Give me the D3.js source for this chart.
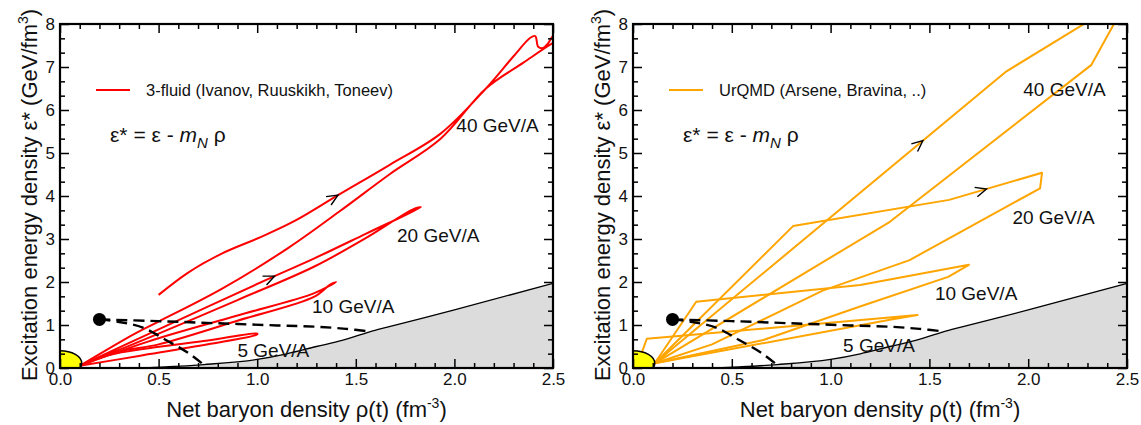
<!DOCTYPE html>
<html>
<head>
<meta charset="utf-8">
<script src="https://cdn.jsdelivr.net/npm/d3@7"></script>
<style>
  body { margin: 0; background: #fff; }
  svg text { font-family: "Liberation Sans", Arial, sans-serif; fill: #111; }
</style>
</head>
<body>
<svg id="chart" width="1141" height="425"></svg>
<script>
// ticks
const rhoTicks = [0, 0.5, 1.0, 1.5, 2.0, 2.5]
const epsTicks = [0, 1, 2, 3, 4, 5, 6, 7, 8]
const energies = ['5 GeV/A', '10 GeV/A', '20 GeV/A', '40 GeV/A']

// 3-fluid trajectories, [rho, eps*]
const fluid5 = [[0.1, 0.05], [0.4, 0.28], [0.75, 0.55], [1.0, 0.78], [1.0, 0.8], [0.75, 0.64], [0.45, 0.46], [0.25, 0.3], [0.1, 0.05]]
const fluid10 = [[0.1, 0.05], [0.45, 0.62], [0.9, 1.22], [1.29, 1.74], [1.40, 2.0], [1.37, 1.94], [1.29, 1.66], [0.9, 1.1], [0.5, 0.55], [0.3, 0.38], [0.1, 0.05]]
const fluid20 = [[0.1, 0.05], [0.5, 0.9], [1.06, 2.08], [1.29, 2.55], [1.55, 3.12], [1.83, 3.74], [1.79, 3.69], [1.55, 3.02], [1.29, 2.36], [0.9, 1.58], [0.5, 0.8], [0.1, 0.05]]
const fluid40 = [[0.5, 1.7], [0.65, 2.22], [0.82, 2.66], [1.02, 3.05], [1.19, 3.42], [1.41, 4.02], [1.67, 4.72], [1.93, 5.45], [2.16, 6.5], [2.3, 7.25],
  [2.385, 7.68], [2.41, 7.72], [2.425, 7.47], [2.45, 7.44], [2.475, 7.55], [2.5, 7.72], [2.56, 7.9], [2.56, 7.7], [2.5, 7.56], [2.35, 7.1],
  [2.16, 6.5], [1.93, 5.33], [1.67, 4.5], [1.42, 3.65], [1.16, 2.8], [0.82, 1.84], [0.5, 1.08], [0.38, 0.8], [0.1, 0.05]]

// UrQMD trajectories
const urqmd5 = [[0.04, 0.3], [0.07, 0.68], [1.44, 1.23], [1.30, 1.12], [0.11, 0.11]]
const urqmd10 = [[0.11, 0.11], [0.32, 1.54], [1.15, 1.93], [1.70, 2.40], [1.595, 2.12], [1.149, 1.43], [0.66, 0.65], [0.11, 0.11]]
const urqmd20 = [[0.11, 0.11], [0.81, 3.30], [1.60, 3.91], [2.07, 4.54], [2.06, 4.18], [1.40, 2.51], [0.96, 1.80], [0.40, 0.55], [0.11, 0.11]]
const urqmd40 = [[0.11, 0.11], [1.89, 6.9], [2.30, 8.05], [2.40, 8.4], [2.47, 8.3], [2.32, 7.05], [1.30, 3.40], [0.11, 0.11]]

// grey region boundary and dashed freeze-out lines
const boundary = [[0, 0], [0.35, 0], [0.55, 0.03], [0.73, 0.08], [1.0, 0.2], [1.15, 0.33], [1.3, 0.5], [1.43, 0.64], [1.57, 0.84], [1.66, 0.95], [2.0, 1.35], [2.5, 1.97]]
const freezeoutLine = [[0.2, 1.13], [0.5, 1.09], [0.8, 1.04], [1.1, 0.99], [1.3, 0.96], [1.45, 0.91], [1.57, 0.85]]
const freezeoutDrop = [[0.2, 1.13], [0.3, 1.07], [0.42, 0.94], [0.53, 0.67], [0.65, 0.35], [0.73, 0.07]]
const criticalPoint = [0.2, 1.13]
const groundState = [0, 0.11, 0.11, 0.29] // rho, eps, half-width, half-height

const plotTop = 24, plotBottom = 368
const svg = d3.select('#chart')

const panels = [
  {
    left: 60, right: 553, color: '#ff0000', smooth: true,
    legend: '3-fluid (Ivanov, Ruuskikh, Toneev)',
    curves: [fluid5, fluid10, fluid20, fluid40],
    labelAt: [[0.90, 0.26], [1.278, 1.28], [1.709, 2.93], [2.01, 5.5]],
    arrows: [[3, 1.41, 4.02], [2, 1.09, 2.11]]
  },
  {
    left: 633, right: 1127, color: '#ffa500', smooth: false,
    legend: 'UrQMD (Arsene, Bravina, ..)',
    curves: [urqmd5, urqmd10, urqmd20, urqmd40],
    labelAt: [[1.063, 0.37], [1.528, 1.58], [1.92, 3.35], [1.975, 6.33]],
    arrows: [[3, 1.46, 5.32], [2, 1.79, 4.14]]
  }
]

panels.forEach((p, i) => drawPanel(p, i))

function drawPanel(p, idx) {
  const x = d3.scaleLinear().domain([0, 2.5]).range([p.left, p.right])
  const y = d3.scaleLinear().domain([0, 8]).range([plotBottom, plotTop])
  const g = svg.append('g')

  svg.append('clipPath').attr('id', 'clip' + idx)
    .append('rect')
      .attr('x', p.left).attr('y', plotTop)
      .attr('width', p.right - p.left).attr('height', plotBottom - plotTop)
  const plot = g.append('g').attr('clip-path', `url(#clip${idx})`)

  // grey region
  plot.append('path').datum(boundary)
    .attr('d', d3.area().x(d => x(d[0])).y0(y(0)).y1(d => y(d[1])).curve(d3.curveMonotoneX))
    .attr('fill', '#dcdcdc')
  plot.append('path').datum(boundary)
    .attr('d', d3.line().x(d => x(d[0])).y(d => y(d[1])).curve(d3.curveMonotoneX))
    .attr('fill', 'none').attr('stroke', '#000').attr('stroke-width', 1.3)

  // trajectories
  const line = d3.line().x(d => x(d[0])).y(d => y(d[1]))
    .curve(p.smooth ? d3.curveCatmullRom.alpha(0.5) : d3.curveLinear)
  const paths = p.curves.map(c => plot.append('path').datum(c)
    .attr('d', line)
    .attr('fill', 'none')
    .attr('stroke', p.color)
    .attr('stroke-width', 2)
    .attr('stroke-linejoin', 'round'))

  // dashed lines + critical point
  const dashed = d3.line().x(d => x(d[0])).y(d => y(d[1])).curve(d3.curveCatmullRom.alpha(0.5))
  ;[freezeoutLine, freezeoutDrop].forEach(d => {
    plot.append('path').datum(d).attr('d', dashed)
      .attr('fill', 'none').attr('stroke', '#000')
      .attr('stroke-width', 2.4).attr('stroke-dasharray', '11,6')
  })
  plot.append('circle')
    .attr('cx', x(criticalPoint[0])).attr('cy', y(criticalPoint[1])).attr('r', 6.5)
    .attr('fill', '#000')

  // nuclear ground state
  plot.append('ellipse')
    .attr('cx', x(groundState[0])).attr('cy', y(groundState[1]))
    .attr('rx', x(groundState[2]) - x(0)).attr('ry', y(0) - y(groundState[3]))
    .attr('fill', '#ffff00').attr('stroke', '#000').attr('stroke-width', 1.5)

  // arrows along trajectories
  p.arrows.forEach(([ci, r, e]) => {
    const node = paths[ci].node(), L = node.getTotalLength()
    let best = 0, bestD = Infinity
    for (let s = 0; s <= L; s += 0.5) {
      const pt = node.getPointAtLength(s)
      const d = (pt.x - x(r)) ** 2 + (pt.y - y(e)) ** 2
      if (d < bestD) { bestD = d; best = s }
    }
    const a = node.getPointAtLength(best), b = node.getPointAtLength(Math.max(0, best - 4))
    const ang = Math.atan2(a.y - b.y, a.x - b.x)
    const arm = 12, spread = 0.42
    const pts = [
      [a.x - arm * Math.cos(ang - spread), a.y - arm * Math.sin(ang - spread)],
      [a.x, a.y],
      [a.x - arm * Math.cos(ang + spread), a.y - arm * Math.sin(ang + spread)]
    ]
    g.append('path').attr('d', d3.line()(pts))
      .attr('fill', 'none').attr('stroke', '#000').attr('stroke-width', 1.4)
  })

  // energy labels
  g.selectAll('text.energy').data(energies).enter()
    .append('text').attr('class', 'energy')
      .attr('x', (d, i) => x(p.labelAt[i][0]))
      .attr('y', (d, i) => y(p.labelAt[i][1]))
      .attr('font-size', 19)
      .text(d => d)

  // legend
  g.append('line')
    .attr('x1', p.left + 36).attr('x2', p.left + 70).attr('y1', 90).attr('y2', 90)
    .attr('stroke', p.color).attr('stroke-width', 2)
  g.append('text').attr('x', p.left + 86).attr('y', 96).attr('font-size', 16.5).text(p.legend)

  // formula
  const f = g.append('text').attr('x', p.left + 50).attr('y', 142).attr('font-size', 21)
  f.append('tspan').text('ε*')
  f.append('tspan').text(' = ε - ')
  f.append('tspan').attr('font-style', 'italic').text('m')
  f.append('tspan').attr('font-style', 'italic').attr('font-size', 15).attr('dy', 6).text('N')
  f.append('tspan').attr('dy', -6).text(' ρ')

  // axes, ticks pointing inward
  const xMinor = d3.range(0, 26).filter(i => i % 5).map(i => i / 10)
  const yMinor = d3.range(0, 25).filter(i => i % 3).map(i => i / 3)
  const addAxis = (axis, tx, ty) => {
    const a = g.append('g').attr('transform', `translate(${tx},${ty})`).call(axis)
    a.select('.domain').remove()
    a.attr('font-size', 17)
    a.selectAll('line').attr('stroke', '#000').attr('stroke-width', 1.5)
    return a
  }
  addAxis(d3.axisBottom(x).tickValues(rhoTicks).tickSize(-9).tickPadding(5).tickFormat(d3.format('.1f')), 0, plotBottom)
  addAxis(d3.axisBottom(x).tickValues(xMinor).tickSize(-5).tickFormat(''), 0, plotBottom)
  addAxis(d3.axisTop(x).tickValues(rhoTicks).tickSize(-9).tickFormat(''), 0, plotTop)
  addAxis(d3.axisTop(x).tickValues(xMinor).tickSize(-5).tickFormat(''), 0, plotTop)
  addAxis(d3.axisLeft(y).tickValues(epsTicks).tickSize(-9).tickPadding(5).tickFormat(d3.format('d')), p.left, 0)
  addAxis(d3.axisLeft(y).tickValues(yMinor).tickSize(-5).tickFormat(''), p.left, 0)
  addAxis(d3.axisRight(y).tickValues(epsTicks).tickSize(-9).tickFormat(''), p.right, 0)
  addAxis(d3.axisRight(y).tickValues(yMinor).tickSize(-5).tickFormat(''), p.right, 0)

  g.append('rect')
    .attr('x', p.left).attr('y', plotTop)
    .attr('width', p.right - p.left).attr('height', plotBottom - plotTop)
    .attr('fill', 'none').attr('stroke', '#000').attr('stroke-width', 2.2)

  // axis titles
  const xt = g.append('text')
    .attr('x', (p.left + p.right) / 2).attr('y', 417)
    .attr('text-anchor', 'middle').attr('font-size', 22)
  xt.append('tspan').text('Net baryon density ρ(t) (fm')
  xt.append('tspan').attr('font-size', 14).attr('dy', -9).text('-3')
  xt.append('tspan').attr('dy', 9).text(')')

  const yt = g.append('text')
    .attr('transform', `translate(${p.left - 23},195) rotate(-90)`)
    .attr('text-anchor', 'middle').attr('font-size', 22)
  yt.append('tspan').text('Excitation energy density ε* (GeV/fm')
  yt.append('tspan').attr('font-size', 14).attr('dy', -9).text('3')
  yt.append('tspan').attr('dy', 9).text(')')
}
</script>
</body>
</html>
